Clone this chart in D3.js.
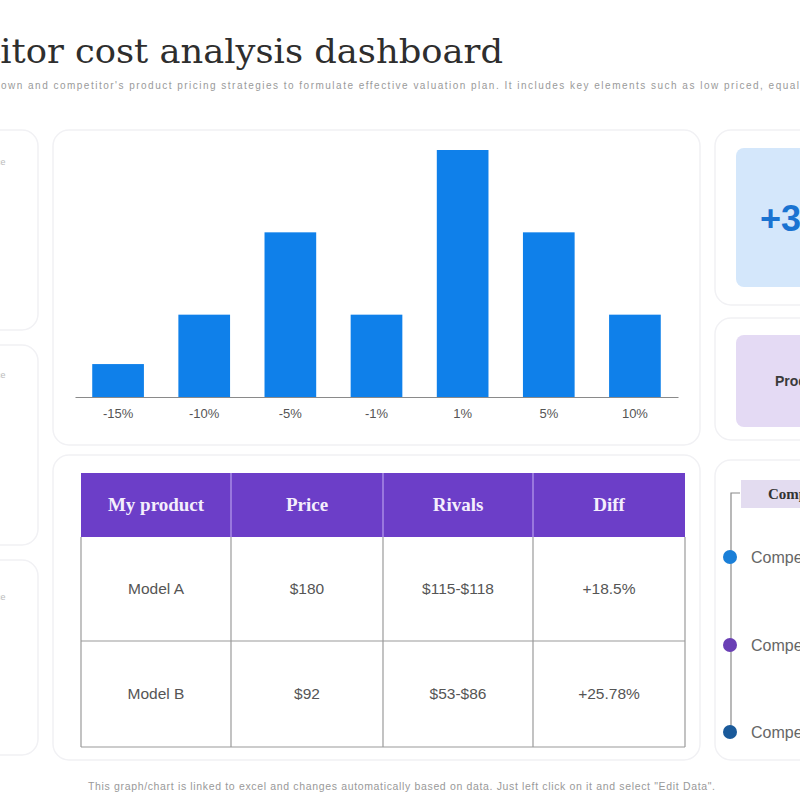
<!DOCTYPE html>
<html>
<head>
<meta charset="utf-8">
<script src="https://cdn.jsdelivr.net/npm/d3@7"></script>
<style>
  body { margin: 0; background: #fff; }
  svg { display: block; }
</style>
</head>
<body>
<div id="chart"></div>
<script>
// chart data
const priceGaps = ['-15%', '-10%', '-5%', '-1%', '1%', '5%', '10%'];
const gapCounts = [2, 5, 10, 5, 15, 10, 5];

// table data
const tableHeaders = ['My product', 'Price', 'Rivals', 'Diff'];
const products = ['Model A', 'Model B'];
const prices = ['$180', '$92'];
const rivalRanges = ['$115-$118', '$53-$86'];
const diffs = ['+18.5%', '+25.78%'];

const competitors = ['Competitor 1', 'Competitor 2', 'Competitor 3'];
const competitorColors = ['#1a7fd8', '#6a3fb5', '#1a5a9a'];

const width = 800, height = 800;

const svg = d3.select('#chart').append('svg')
  .attr('width', width)
  .attr('height', height);

// title (slide is cropped on the left, "itor" starts at the edge)
const titleText = 'Competitor cost analysis dashboard';
const title = svg.append('text')
  .attr('x', 0).attr('y', 0)
  .attr('text-anchor', 'end')
  .style('font-family', '"DejaVu Serif", serif')
  .style('font-size', '34px')
  .style('fill', '#2e2e2e')
  .text(titleText);
const visLen = title.node().getSubStringLength(6, titleText.length - 6);
title.attr('transform', `translate(503,63) scale(${503 / visLen},1)`);

svg.append('text')
  .attr('x', 1).attr('y', 89)
  .attr('textLength', 798)
  .attr('lengthAdjust', 'spacing')
  .style('font-family', '"Liberation Sans", sans-serif')
  .style('font-size', '10px')
  .style('fill', '#9a9a9a')
  .text("own and competitor's product pricing strategies to formulate effective valuation plan. It includes key elements such as low priced, equal");

// card backgrounds
const cards = [
  [-20, 130, 58, 200], [-20, 345, 58, 200], [-20, 560, 58, 195],
  [53, 130, 647, 315], [53, 455, 647, 305],
  [715, 130, 110, 175], [715, 318, 110, 122], [715, 460, 110, 300]
];
svg.selectAll('rect.card')
  .data(cards)
  .enter().append('rect')
  .attr('class', 'card')
  .attr('x', d => d[0]).attr('y', d => d[1])
  .attr('width', d => d[2]).attr('height', d => d[3])
  .attr('rx', 16)
  .attr('fill', '#fff')
  .attr('stroke', '#f1f1f4')
  .attr('stroke-width', 1.5);

// faint text stubs on the left cards
[165, 378, 600].forEach(y => {
  svg.append('text')
    .attr('x', -4).attr('y', y)
    .style('font-family', '"Liberation Sans", sans-serif')
    .style('font-size', '9px')
    .style('fill', '#bbb')
    .text('ce');
});

// bar chart
const x = d3.scaleBand()
  .domain(priceGaps)
  .range([75, 678])
  .paddingInner(0.4)
  .paddingOuter(0.2);

const y = d3.scaleLinear()
  .domain([0, 15])
  .range([397, 150]);

svg.append('g')
  .selectAll('rect')
  .data(priceGaps)
  .enter().append('rect')
  .attr('x', d => x(d))
  .attr('y', (d, i) => y(gapCounts[i]))
  .attr('width', x.bandwidth())
  .attr('height', (d, i) => y(0) - y(gapCounts[i]))
  .attr('fill', '#0f80ea');

const xAxis = svg.append('g')
  .attr('transform', `translate(0,${y(0)})`)
  .call(d3.axisBottom(x).tickSize(0).tickPadding(12));
xAxis.select('.domain').attr('stroke', '#8a8a8a').attr('stroke-width', 1.2);
xAxis.selectAll('text')
  .style('font-family', '"Liberation Sans", sans-serif')
  .style('font-size', '13px')
  .style('fill', '#555');

// table
const colX = [81, 231, 383, 533, 685];
const headerTop = 473, headerBottom = 537;
const rowY = [537, 641, 747];
const rows = products.map((p, i) => [p, prices[i], rivalRanges[i], diffs[i]]);

svg.append('rect')
  .attr('x', colX[0]).attr('y', headerTop)
  .attr('width', colX[4] - colX[0]).attr('height', headerBottom - headerTop)
  .attr('fill', '#6c3ec8');

svg.selectAll('text.th')
  .data(tableHeaders)
  .enter().append('text')
  .attr('class', 'th')
  .attr('x', (d, i) => (colX[i] + colX[i + 1]) / 2)
  .attr('y', (headerTop + headerBottom) / 2 + 6)
  .attr('text-anchor', 'middle')
  .style('font-family', '"Liberation Serif", serif')
  .style('font-weight', 'bold')
  .style('font-size', '19px')
  .style('fill', '#f4eefc')
  .text(d => d);

// header column separators
colX.slice(1, 4).forEach(cx => {
  svg.append('line')
    .attr('x1', cx).attr('x2', cx)
    .attr('y1', headerTop).attr('y2', headerBottom)
    .attr('stroke', '#a98be6').attr('stroke-width', 1.5);
});

// body grid
const grid = svg.append('g').attr('stroke', '#9a9a9a').attr('stroke-width', 1.2);
colX.forEach(cx => {
  grid.append('line').attr('x1', cx).attr('x2', cx)
    .attr('y1', headerBottom).attr('y2', rowY[2]);
});
rowY.slice(1).forEach(ry => {
  grid.append('line').attr('x1', colX[0]).attr('x2', colX[4])
    .attr('y1', ry).attr('y2', ry);
});

rows.forEach((row, r) => {
  svg.selectAll(null)
    .data(row)
    .enter().append('text')
    .attr('x', (d, i) => (colX[i] + colX[i + 1]) / 2)
    .attr('y', (rowY[r] + rowY[r + 1]) / 2 + 5)
    .attr('text-anchor', 'middle')
    .style('font-family', '"Liberation Sans", sans-serif')
    .style('font-size', '15.5px')
    .style('fill', '#555')
    .text(d => d);
});

// KPI cards on the right (cropped)
svg.append('rect')
  .attr('x', 736).attr('y', 148).attr('width', 90).attr('height', 139)
  .attr('rx', 8).attr('fill', '#d4e7fb');
svg.append('text')
  .attr('x', 760).attr('y', 231)
  .style('font-family', '"Liberation Sans", sans-serif')
  .style('font-weight', 'bold')
  .style('font-size', '36px')
  .style('fill', '#1a73d1')
  .text('+35%');

svg.append('rect')
  .attr('x', 736).attr('y', 335).attr('width', 90).attr('height', 92)
  .attr('rx', 8).attr('fill', '#e4daf4');
svg.append('text')
  .attr('x', 775).attr('y', 386)
  .style('font-family', '"Liberation Sans", sans-serif')
  .style('font-weight', 'bold')
  .style('font-size', '14px')
  .style('fill', '#3a3a3a')
  .text('Product');

// competitor timeline
const dotY = [557, 645, 732];
svg.append('path')
  .attr('d', `M740,493 H731 V${dotY[2]}`)
  .attr('fill', 'none')
  .attr('stroke', '#8a8a8a')
  .attr('stroke-width', 1.2);

svg.append('rect')
  .attr('x', 741).attr('y', 480).attr('width', 80).attr('height', 28)
  .attr('fill', '#e3dcf0');
svg.append('text')
  .attr('x', 768).attr('y', 499)
  .style('font-family', '"Liberation Serif", serif')
  .style('font-weight', 'bold')
  .style('font-size', '15px')
  .style('fill', '#333')
  .text('Competitors');

svg.selectAll('circle.dot')
  .data(competitors)
  .enter().append('circle')
  .attr('class', 'dot')
  .attr('cx', 730)
  .attr('cy', (d, i) => dotY[i])
  .attr('r', 7)
  .attr('fill', (d, i) => competitorColors[i]);

svg.selectAll('text.comp')
  .data(competitors)
  .enter().append('text')
  .attr('class', 'comp')
  .attr('x', 751)
  .attr('y', (d, i) => dotY[i] + 6)
  .style('font-family', '"Liberation Sans", sans-serif')
  .style('font-size', '16px')
  .style('fill', '#666')
  .text(d => d);

// footer note
svg.append('text')
  .attr('x', 88).attr('y', 790)
  .attr('textLength', 627)
  .attr('lengthAdjust', 'spacing')
  .style('font-family', '"Liberation Sans", sans-serif')
  .style('font-size', '10.5px')
  .style('fill', '#999')
  .text('This graph/chart is linked to excel and changes automatically based on data. Just left click on it and select "Edit Data".');
</script>
</body>
</html>
